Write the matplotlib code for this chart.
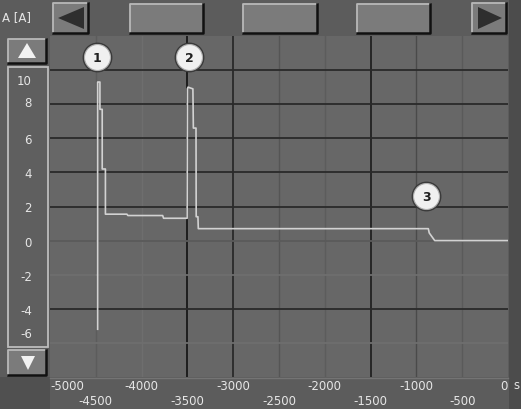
import matplotlib
matplotlib.use('Agg')
import matplotlib.pyplot as plt
from matplotlib.patches import Rectangle, Polygon
from matplotlib.lines import Line2D
from matplotlib.transforms import ScaledTranslation

# Messdaten (Zeit in s, Strom in A)
zeit = [-4480, -4480, -4455, -4455, -4430, -4430, -4395, -4395, -4160, -4150,
        -3770, -3760, -3503, -3500, -3493, -3440, -3435, -3406, -3404, -3385,
        -3381, -870, -860, -800, 0]
strom = [-5.2, 9.3, 9.3, 7.7, 7.7, 4.2, 4.2, 1.55, 1.55, 1.47,
         1.47, 1.31, 1.31, 8.9, 9.0, 8.9, 6.6, 6.6, 1.4, 1.4,
         0.7, 0.7, 0.45, 0.0, 0.0]

marker_nr = ['1', '2', '3']
marker_x = [-4487, -3483, -895]
marker_y = [10.75, 10.75, 2.6]

x_major = [-5000, -4000, -3000, -2000, -1000, 0]
x_minor = [-4500, -3500, -2500, -1500, -500]
y_ticks = [-6, -4, -2, 0, 2, 4, 6, 8, 10]

W, H = 521, 410
BG = '#5c5c5c'
PLOT_BG = '#676767'
TXT = '#e6e6e6'

fig = plt.figure(figsize=(W / 100, H / 100), dpi=100, facecolor=BG)


def px(x0, y0, w, h):
    # Pixel (oben links) -> Figurenanteile
    return (x0 / W, 1 - (y0 + h) / H, w / W, h / H)


def rect(x0, y0, w, h, fc, ec='none', lw=0):
    l, b, ww, hh = px(x0, y0, w, h)
    fig.patches.append(Rectangle((l, b), ww, hh, transform=fig.transFigure,
                                 facecolor=fc, edgecolor=ec, linewidth=lw, zorder=-5))


def linie(xs, ys, c, lw=1.0):
    fig.lines.append(Line2D([x / W for x in xs], [1 - y / H for y in ys],
                            transform=fig.transFigure, color=c, linewidth=lw, zorder=-4))


def knopf(x0, y0, w, h, fc='#7b7b7b'):
    rect(x0, y0, w, h, fc)
    linie([x0, x0, x0 + w], [y0 + h, y0, y0], '#b8b8b8', 1.3)
    linie([x0, x0 + w, x0 + w], [y0 + h, y0 + h, y0], '#111111', 1.8)


def dreieck(pts, c):
    fig.patches.append(Polygon([(x / W, 1 - y / H) for x, y in pts], closed=True,
                               transform=fig.transFigure, facecolor=c,
                               edgecolor='none', zorder=-3))


# Hintergrundflaechen
rect(0, 378, 50, 32, '#505050')
rect(509, 0, 12, 410, '#4c4c4c')

# obere Leiste
knopf(53, 4, 35, 30)
dreieck([(58, 19), (84, 8), (84, 30)], '#2e2e2e')
knopf(130, 5, 73, 29)
knopf(243, 5, 74, 29)
knopf(357, 5, 73, 29)
knopf(472, 4, 34, 30)
dreieck([(478, 8), (478, 30), (502, 19)], '#2e2e2e')
fig.text(2 / W, 1 - 18 / H, 'A [A]', color=TXT, fontsize=8.5, va='center', ha='left')

# linke Leiste
knopf(8, 40, 38, 24)
dreieck([(18, 59), (27, 44), (36, 59)], '#f2f2f2')
rect(8, 68, 40, 280, '#5f5f5f', ec='#bdbdbd', lw=1.3)
knopf(8, 351, 38, 25)
dreieck([(21, 357), (35, 357), (28, 371)], '#f2f2f2')

# Diagramm
ax = fig.add_axes(px(50, 37, 458, 341))
ax.set_facecolor(PLOT_BG)
ax.set_xlim(-5000, 0)
ax.set_ylim(-8, 12)
for s in ax.spines.values():
    s.set_visible(False)

# Gitter
v_farben = {-4500: '#5c5c5c', -4000: '#6e6e6e', -3500: '#1e1e1e', -3000: '#2e2e2e',
            -2500: '#555555', -2000: '#5c5c5c', -1500: '#262626', -1000: '#4a4a4a',
            -500: '#5a5a5a'}
for xv, c in v_farben.items():
    ax.axvline(xv, color=c, linewidth=1.4 if c < '#30' else 1.0, zorder=1)
h_farben = {10: '#2a2a2a', 8: '#2a2a2a', 6: '#2a2a2a', 4: '#2a2a2a', 2: '#2a2a2a',
            0: '#5a5a5a', -2: '#6e6e6e', -4: '#2a2a2a', -6: '#6e6e6e'}
for yv, c in h_farben.items():
    ax.axhline(yv, color=c, linewidth=1.3, zorder=1)

ax.plot(zeit, strom, color='#d2d2d2', linewidth=1.2, zorder=3)

for nr, mx, my in zip(marker_nr, marker_x, marker_y):
    ax.scatter([mx], [my], s=420, color='#3a3a3a', zorder=4, clip_on=False)
    ax.scatter([mx], [my], s=350, color='#f0f0f0', edgecolor='#b0b0b0',
               linewidth=0.8, zorder=5, clip_on=False)
    ax.text(mx, my, nr, ha='center', va='center', fontsize=9, fontweight='bold',
            color='#202020', zorder=6)

# Achsenbeschriftung
ax.set_xticks(x_major)
ax.set_xticklabels([str(v) for v in x_major])
ax.set_xticks(x_minor, minor=True)
ax.set_xticklabels([str(v) for v in x_minor], minor=True)
ax.tick_params(axis='x', which='major', length=0, pad=1.5, labelsize=8.5, labelcolor=TXT)
ax.tick_params(axis='x', which='minor', length=0, pad=12, labelsize=8.5, labelcolor=TXT)
xl = ax.get_xticklabels()
xl[0].set_ha('left')
xl[-1].set_ha('right')

ax.set_yticks(y_ticks)
ax.set_yticklabels([str(v) for v in y_ticks])
ax.tick_params(axis='y', length=0, pad=13, labelsize=8.5, labelcolor=TXT)
# Beschriftung im Kasten leicht verschoben wie im Original
versatz = {10: -9, 8: 3, -6: 11}
for wert, lab in zip(y_ticks, ax.get_yticklabels()):
    if wert in versatz:
        lab.set_transform(lab.get_transform() +
                          ScaledTranslation(0, versatz[wert] / 100, fig.dpi_scale_trans))

fig.text(513 / W, 1 - 386 / H, 's', color=TXT, fontsize=8.5, va='center', ha='left')
linie([50, 508], [379, 379], '#747474', 1.0)

fig.savefig('out.png', dpi=100, facecolor=BG)
